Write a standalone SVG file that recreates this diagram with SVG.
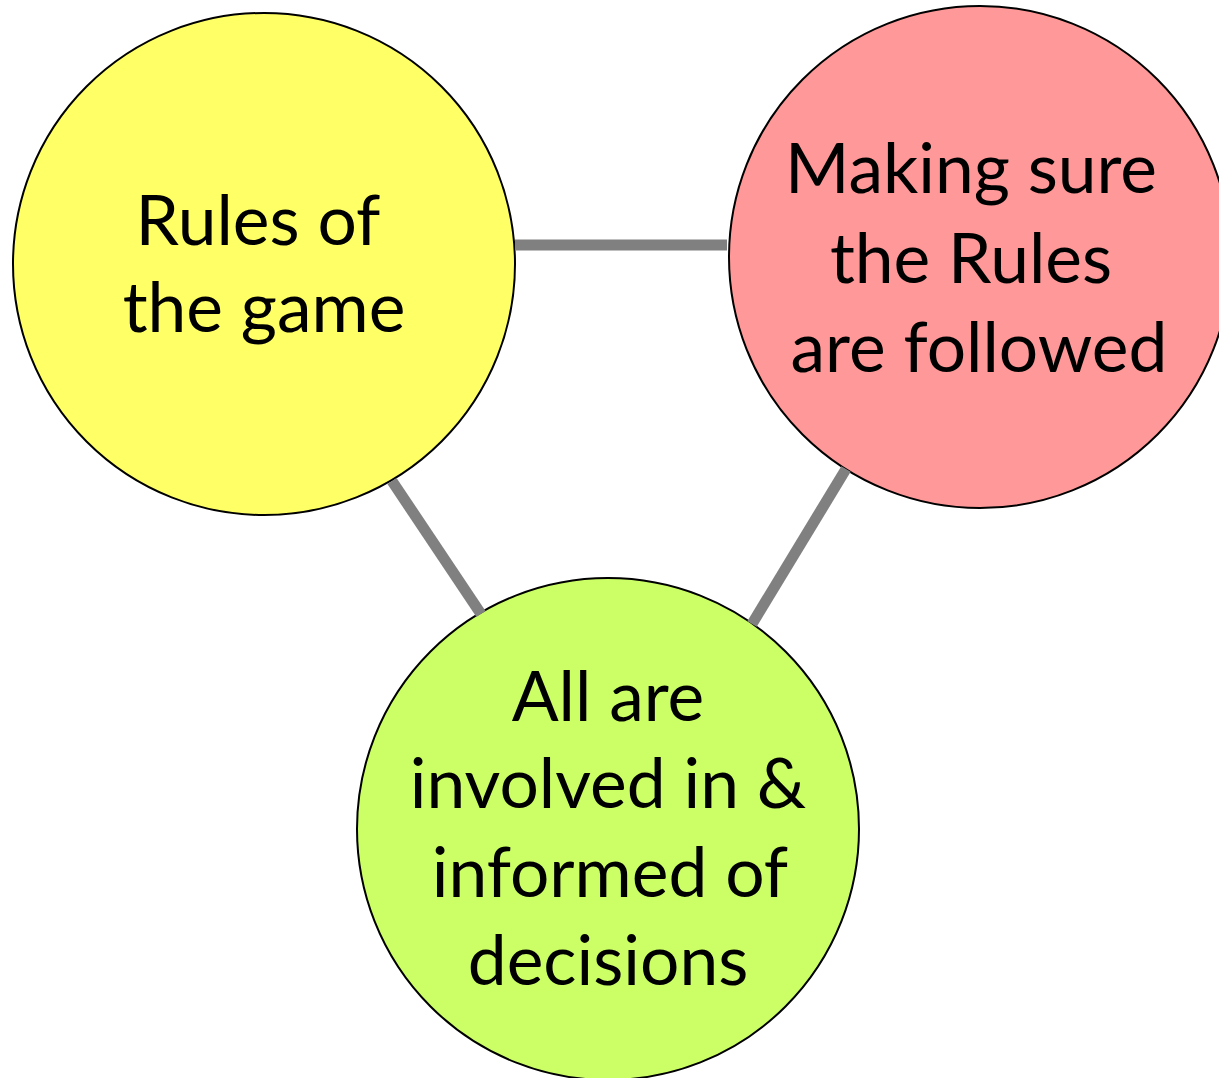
<svg xmlns="http://www.w3.org/2000/svg" width="1219" height="1078" viewBox="0 0 1219 1078">
<style>
.node{stroke:#000;stroke-width:2}
.lbl{font-family:Lato,"Liberation Sans",sans-serif;font-size:69.5px;fill:#000;text-anchor:middle}
.conn{stroke:#808080;stroke-width:11;fill:none}
</style>
<rect width="1219" height="1078" fill="#fff"/>
<g id="node-rules">
<circle class="node" cx="264" cy="264" r="251" fill="#FFFF66"/>
<text class="lbl" x="258" y="245">Rules of</text>
<text class="lbl" x="264" y="332">the game</text>
</g>
<g id="node-making-sure">
<circle class="node" cx="980" cy="257" r="251" fill="#FF9999"/>
<text class="lbl" x="971" y="193">Making sure</text>
<text class="lbl" x="971" y="283">the Rules</text>
<text class="lbl" x="979" y="372">are followed</text>
</g>
<g id="node-all-involved">
<circle class="node" cx="608" cy="829" r="251" fill="#CCFF66"/>
<text class="lbl" x="608" y="721">All are</text>
<text class="lbl" x="608" y="808">involved in &amp;</text>
<text class="lbl" x="610" y="897">informed of</text>
<text class="lbl" x="608" y="985">decisions</text>
</g>
<g id="connectors">
<line class="conn" x1="515" y1="245" x2="727" y2="245"/>
<line class="conn" x1="392" y1="481" x2="481" y2="614"/>
<line class="conn" x1="846" y1="469" x2="752" y2="624"/>
</g>
</svg>
